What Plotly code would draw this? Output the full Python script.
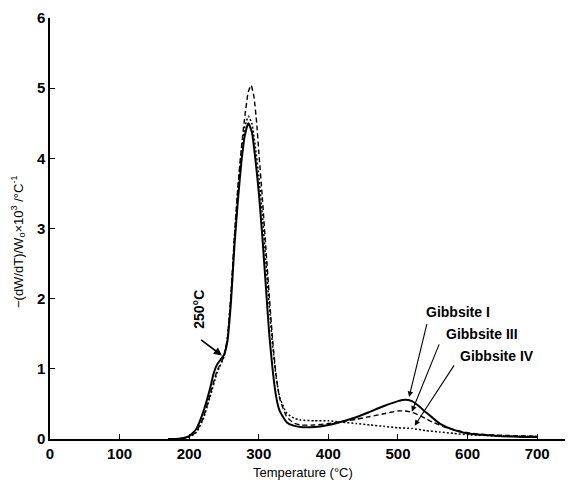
import plotly.graph_objects as go

# Gibbsite I (solid)
t1 = [170, 180, 190, 200, 210, 220, 230, 235, 240, 245, 250, 255, 260, 265, 270, 275, 280, 285, 290, 295, 300,
      305, 310, 315, 320, 325, 330, 340, 350, 360, 380, 400, 420, 440, 460, 480, 500, 510, 520, 530, 540,
      550, 560, 580, 600, 620, 650, 680, 700]
v1 = [0.0, 0.0, 0.01, 0.04, 0.14, 0.38, 0.72, 0.93, 1.06, 1.13, 1.2, 1.4, 1.95, 2.75, 3.4, 3.95, 4.33, 4.5, 4.38, 4.0,
      3.52, 2.9, 2.2, 1.5, 0.98, 0.6, 0.4, 0.24, 0.19, 0.17, 0.17, 0.2, 0.25, 0.31, 0.39, 0.47, 0.54, 0.56, 0.54,
      0.47, 0.38, 0.3, 0.22, 0.13, 0.08, 0.06, 0.04, 0.03, 0.03]

# Gibbsite III (dashed)
t3 = [170, 180, 190, 200, 210, 220, 230, 240, 250, 255, 260, 265, 270, 275, 280, 285, 289, 293, 297, 300,
      305, 310, 315, 320, 325, 330, 340, 350, 360, 380, 400, 420, 440, 460, 480, 500, 510, 520, 530, 540,
      550, 570, 600, 630, 660, 700]
v3 = [0.0, 0.0, 0.01, 0.03, 0.1, 0.3, 0.63, 0.97, 1.18, 1.45, 2.05, 2.9, 3.6, 4.15, 4.6, 4.95, 5.04, 4.88, 4.5, 4.1,
      3.45, 2.75, 2.05, 1.4, 0.9, 0.58, 0.32, 0.23, 0.2, 0.2, 0.22, 0.25, 0.28, 0.32, 0.36, 0.4, 0.4, 0.38, 0.34,
      0.29, 0.24, 0.16, 0.09, 0.06, 0.05, 0.04]

# Gibbsite IV (dotted)
t4 = [170, 180, 190, 200, 210, 220, 230, 240, 250, 255, 260, 265, 270, 275, 280, 285, 290, 295, 300,
      305, 310, 315, 320, 325, 330, 340, 350, 360, 380, 400, 420, 440, 460, 480, 500, 520, 540, 560,
      580, 600, 630, 660, 700]
v4 = [0.0, 0.0, 0.01, 0.03, 0.09, 0.28, 0.6, 0.94, 1.17, 1.45, 2.05, 2.85, 3.55, 4.1, 4.45, 4.6, 4.5, 4.17, 3.75,
      3.2, 2.55, 1.9, 1.32, 0.88, 0.6, 0.37, 0.3, 0.27, 0.26, 0.26, 0.24, 0.22, 0.2, 0.18, 0.16, 0.15, 0.12,
      0.1, 0.08, 0.06, 0.05, 0.04, 0.04]

x_ticks = [0, 100, 200, 300, 400, 500, 600, 700]
y_ticks = [0, 1, 2, 3, 4, 5, 6]

fig = go.Figure()
fig.add_trace(go.Scatter(x=t3, y=v3, mode="lines", line=dict(color="black", width=1.4, dash="5px,3px", shape="spline", smoothing=0.5)))
fig.add_trace(go.Scatter(x=t4, y=v4, mode="lines", line=dict(color="black", width=1.5, dash="2px,2px", shape="spline", smoothing=0.5)))
fig.add_trace(go.Scatter(x=t1, y=v1, mode="lines", line=dict(color="black", width=2, shape="spline", smoothing=0.5)))

tickfont = dict(family="Liberation Sans, Arial, sans-serif", size=15, color="black", weight="bold")
fig.update_layout(
    width=568, height=480,
    margin=dict(l=50, r=3, t=18, b=41),
    paper_bgcolor="white", plot_bgcolor="white",
    showlegend=False,
    xaxis=dict(range=[0, 740], tickvals=x_ticks, ticktext=[str(v) for v in x_ticks],
               ticks="inside", ticklen=5, tickcolor="black", showline=True, linecolor="black", linewidth=1.5,
               showgrid=False, zeroline=False, tickfont=tickfont),
    yaxis=dict(range=[0, 6], tickvals=y_ticks, ticktext=[str(v) for v in y_ticks],
               ticks="inside", ticklen=5, tickcolor="black", showline=True, linecolor="black", linewidth=1.5,
               showgrid=False, zeroline=False, tickfont=tickfont),
)

txtfont = dict(family="Liberation Sans, Arial, sans-serif", size=14, color="black", weight="bold")
labfont = dict(family="Liberation Sans, Arial, sans-serif", size=13, color="black")

# axis titles
fig.add_annotation(text="Temperature (°C)", xref="paper", yref="paper", x=0.491, y=-0.08,
                   xanchor="center", yanchor="middle", showarrow=False, font=labfont)
fig.add_annotation(text="−(dW/dT)/W<sub>o</sub>×10<sup>3</sup> /°C<sup>-1</sup>", xref="paper", yref="paper",
                   x=-0.062, y=0.468, xanchor="center", yanchor="middle", textangle=-90, showarrow=False, font=labfont)

# series labels with arrows
labels = [("Gibbsite I", 586, 1.81, 542, 1.66, 516, 0.6),
          ("Gibbsite III", 621, 1.49, 560, 1.37, 520, 0.39),
          ("Gibbsite IV", 642, 1.19, 582, 1.07, 524, 0.19)]
for txt, tx, ty, ax, ay, hx, hy in labels:
    fig.add_annotation(text=txt, x=tx, y=ty, xref="x", yref="y", showarrow=False, font=txtfont)
    fig.add_annotation(text="", x=hx, y=hy, ax=ax, ay=ay, xref="x", yref="y", axref="x", ayref="y",
                       showarrow=True, arrowhead=2, arrowsize=1, arrowwidth=1.1, arrowcolor="black")

fig.add_annotation(text="250°C", x=215, y=1.85, xref="x", yref="y", textangle=-90, showarrow=False, font=txtfont)
fig.add_annotation(text="", x=247, y=1.19, ax=215, ay=1.43, xref="x", yref="y", axref="x", ayref="y",
                   showarrow=True, arrowhead=2, arrowsize=1, arrowwidth=1.6, arrowcolor="black")

fig.write_html("out.html")
